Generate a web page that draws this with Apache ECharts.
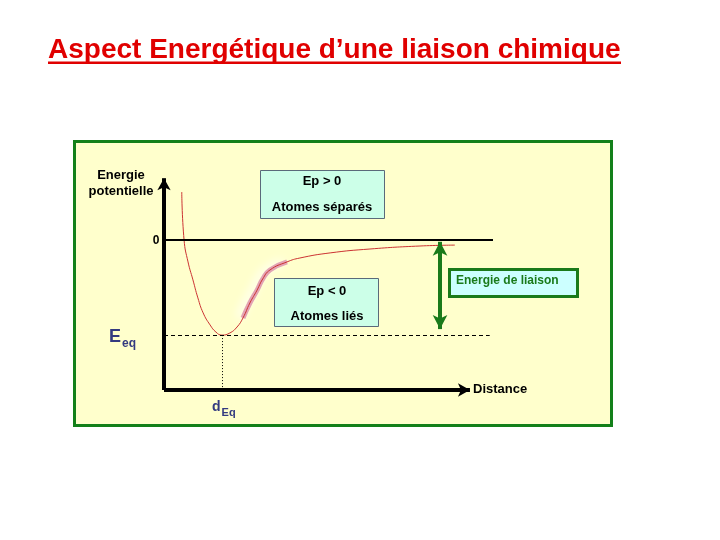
<!DOCTYPE html>
<html>
<head>
<meta charset="utf-8">
<script src="https://cdn.jsdelivr.net/npm/echarts@6/dist/echarts.min.js"></script>
<style>
  html, body { margin: 0; padding: 0; background: #fff; }
  #chart { width: 720px; height: 540px; }
</style>
</head>
<body>
<div id="chart"></div>
<script>
// courbe d'energie potentielle (distance, energie)
const distance = [0.54, 0.61, 0.73, 0.88, 1.03, 1.19, 1.40, 1.58, 1.76, 2.00, 2.22, 2.40, 2.61, 2.83, 3.00, 3.22, 3.74, 4.13, 5.05, 6.26, 7.78, 8.84];
const energy   = [1.60, 0.00, -0.73, -1.33, -1.93, -2.43, -2.83, -3.07, -3.17, -3.10, -2.90, -2.60, -2.10, -1.67, -1.30, -1.00, -0.73, -0.60, -0.43, -0.30, -0.20, -0.17];
// partie surlignee en rose (indices dans la courbe)
const highlightFrom = 11;
const highlightTo = 16;
const Eeq = -3.17;
const dEq = 1.76;
const xMin = 0, xMax = 10;
const yMin = -5, yMax = 2.1;
const xArrowEnd = 9.3;
const yArrowEnd = 2.06;
const liaisonX = 8.39;
const liaisonTop = -0.06;
const liaisonBottom = -2.97;

const curve = distance.map((d, i) => [d, energy[i]]);
const highlight = curve.slice(highlightFrom, highlightTo + 1);

const chart = echarts.init(document.getElementById('chart'));
const font = 'Liberation Sans, Arial, sans-serif';
const blue = '#333a80';
const green = '#1a7a1a';

chart.setOption({
  animation: false,
  backgroundColor: '#fff',
  grid: { left: 164, right: 227, top: 177, bottom: 150 },
  xAxis: { type: 'value', min: xMin, max: xMax, show: false },
  yAxis: { type: 'value', min: yMin, max: yMax, show: false },
  graphic: [
    // cadre
    { type: 'rect', z: -10, shape: { x: 74.5, y: 141.5, width: 537, height: 284 },
      style: { fill: '#ffffcc', stroke: '#13801a', lineWidth: 3 } },
    // titre
    { type: 'text', left: 48, top: 36, style: { text: 'Aspect Energétique d’une liaison chimique',
      font: 'bold 28px ' + font, fill: '#e00000' } },
    { type: 'rect', shape: { x: 48, y: 61.5, width: 573, height: 2.5 }, style: { fill: '#e00000' } },
    // boites
    { type: 'rect', shape: { x: 260.5, y: 170.5, width: 124, height: 48 },
      style: { fill: '#ccffe8', stroke: '#5a6a7a', lineWidth: 1 } },
    { type: 'text', x: 322, y: 181, style: { text: 'Ep > 0', font: 'bold 13px ' + font, fill: '#000', align: 'center', verticalAlign: 'middle' } },
    { type: 'text', x: 322, y: 207, style: { text: 'Atomes séparés', font: 'bold 13px ' + font, fill: '#000', align: 'center', verticalAlign: 'middle' } },
    { type: 'rect', shape: { x: 274.5, y: 278.5, width: 104, height: 48 },
      style: { fill: '#ccffe8', stroke: '#5a6a7a', lineWidth: 1 } },
    { type: 'text', x: 327, y: 291, style: { text: 'Ep < 0', font: 'bold 13px ' + font, fill: '#000', align: 'center', verticalAlign: 'middle' } },
    { type: 'text', x: 327, y: 316, style: { text: 'Atomes liés', font: 'bold 13px ' + font, fill: '#000', align: 'center', verticalAlign: 'middle' } },
    { type: 'rect', shape: { x: 449.5, y: 269.5, width: 128, height: 27 },
      style: { fill: '#ccffff', stroke: green, lineWidth: 3 } },
    { type: 'text', x: 456, y: 281, style: { text: 'Energie de liaison', font: 'bold 12px ' + font, fill: green, verticalAlign: 'middle' } },
    // etiquettes des axes
    { type: 'text', x: 121, y: 175, style: { text: 'Energie', font: 'bold 13px ' + font, fill: '#000', align: 'center', verticalAlign: 'middle' } },
    { type: 'text', x: 121, y: 191, style: { text: 'potentielle', font: 'bold 13px ' + font, fill: '#000', align: 'center', verticalAlign: 'middle' } },
    { type: 'text', x: 156, y: 241, style: { text: '0', font: 'bold 12px ' + font, fill: '#000', align: 'center', verticalAlign: 'middle' } },
    { type: 'text', x: 473, y: 389, style: { text: 'Distance', font: 'bold 13px ' + font, fill: '#000', verticalAlign: 'middle' } },
    { type: 'text', x: 109, y: 328, style: {
      text: '{a|E}{b|eq}', fill: blue,
      rich: { a: { font: 'bold 18px ' + font, fill: blue, verticalAlign: 'bottom' },
              b: { font: 'bold 12px ' + font, fill: blue, verticalAlign: 'bottom', padding: [0, 0, -4, 1] } } } },
    { type: 'text', x: 212, y: 400, style: {
      text: '{a|d}{b|Eq}', fill: blue,
      rich: { a: { font: 'bold 14px ' + font, fill: blue, verticalAlign: 'bottom' },
              b: { font: 'bold 11px ' + font, fill: blue, verticalAlign: 'bottom', padding: [0, 0, -4, 1] } } } }
  ],
  series: [
    {
      type: 'line', data: highlight, smooth: true, showSymbol: false, z: 2,
      lineStyle: { color: '#e3a4b4', width: 5, shadowColor: '#ffffff', shadowBlur: 10, shadowOffsetX: -4 }
    },
    {
      type: 'line', data: curve, smooth: true, showSymbol: false, z: 3,
      lineStyle: { color: '#cc3333', width: 1 },
      markLine: {
        silent: true, symbol: 'none', label: { show: false },
        data: [
          // axes
          [{ coord: [xMin, yMin], lineStyle: { color: '#000', width: 4, type: 'solid' }, symbol: 'none' },
           { coord: [xArrowEnd, yMin], symbol: 'arrow', symbolSize: [10, 12] }],
          [{ coord: [xMin, yMin], lineStyle: { color: '#000', width: 4, type: 'solid' }, symbol: 'none' },
           { coord: [xMin, yArrowEnd], symbol: 'arrow', symbolSize: [10, 12] }],
          // zero
          [{ coord: [xMin, 0], lineStyle: { color: '#000', width: 2, type: 'solid' } }, { coord: [xMax, 0] }],
          // Eeq
          [{ coord: [xMin, Eeq], lineStyle: { color: '#000', width: 1, type: [4, 3] } }, { coord: [9.9, Eeq] }],
          // dEq
          [{ coord: [dEq, Eeq], lineStyle: { color: '#000', width: 1, type: [1, 2] } }, { coord: [dEq, yMin] }],
          // energie de liaison
          [{ coord: [liaisonX, liaisonTop], lineStyle: { color: green, width: 4, type: 'solid' }, symbol: 'arrow', symbolSize: [11, 14] },
           { coord: [liaisonX, liaisonBottom], symbol: 'arrow', symbolSize: [11, 14] }]
        ]
      }
    }
  ]
});
</script>
</body>
</html>
